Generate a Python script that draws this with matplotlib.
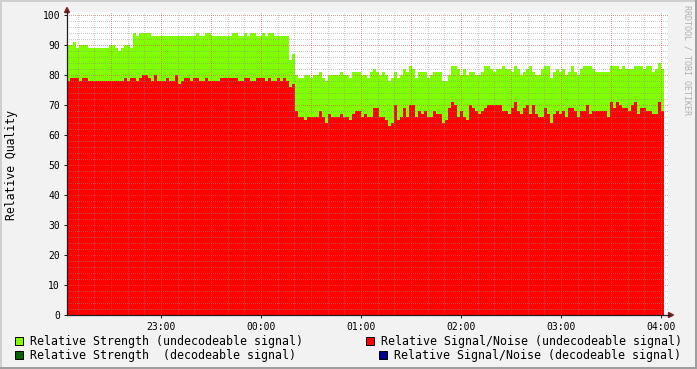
import matplotlib
matplotlib.use("Agg")
import matplotlib.pyplot as plt
from matplotlib.lines import Line2D
from matplotlib.patches import Rectangle, Polygon
from datetime import datetime, timedelta

W, H = 697, 369
plt.rcParams['font.family'] = ['DejaVu Sans Mono', 'DejaVu Sans']
plt.rcParams['lines.scale_dashes'] = False

# ---------------- data ----------------
start_time = datetime(2024, 1, 1, 22, 3, 36)
step_seconds = 108

strength_undecodeable = [
    90, 90, 91, 89, 90, 90, 90, 89, 89, 89, 89, 89, 89, 89, 90, 90, 89, 88, 89, 90, 90, 89, 94,
    93, 94, 94, 94, 94, 93, 93, 93, 93, 93, 93, 93, 93, 93, 93, 93, 93, 93, 93, 93, 94,
    93, 93, 94, 94, 93, 93, 93, 93, 93, 93, 93, 94, 94, 93, 93, 94, 93, 94, 94, 93, 93, 94,
    93, 94, 94, 93, 93, 93, 93, 93, 85, 87,
    80, 79, 79, 80, 80, 79, 80, 80, 81, 79, 78, 80, 80, 80, 80, 81, 80, 80, 79, 81, 81, 81, 80,
    80, 79, 81, 82, 81, 80, 81, 80, 78, 79, 81, 79, 80, 82, 81, 83, 82, 79, 81, 81, 81, 79, 80,
    81, 81, 81, 78, 78, 80, 83, 83, 82, 80, 82,
    80, 81, 81, 80, 80, 81, 83, 83, 82, 81, 82, 82, 83, 82, 82, 81, 83, 82, 80, 81, 82, 83, 81,
    80, 80, 82, 83, 83, 79, 81, 82, 81, 82,
    80, 81, 83, 81, 80, 82, 83, 83, 83, 82, 81, 81, 81, 81, 81, 83, 83, 83, 82, 83, 82, 82, 82,
    83, 83, 83, 82, 83, 83, 81, 82, 84, 82,
]

snr_undecodeable = [
    78, 79, 79, 79, 78, 79, 79, 78, 78, 78, 78, 78, 78, 78, 78, 78, 78, 78, 78, 79, 78, 79, 79,
    78, 79, 80, 80, 79, 78, 80, 78, 78, 78, 79, 78, 78, 80, 77, 78, 79, 79, 78, 79, 79,
    78, 78, 79, 78, 78, 78, 78, 79, 79, 79, 79, 79, 79, 78, 78, 79, 79, 78, 78, 79, 79, 79,
    78, 79, 78, 78, 79, 78, 79, 78, 76, 77,
    68, 66, 66, 65, 66, 66, 66, 66, 68, 66, 64, 67, 66, 66, 66, 67, 66, 66, 65, 67, 68, 68, 66,
    67, 66, 66, 69, 69, 66, 66, 65, 63, 64, 70, 65, 66, 69, 66, 70, 70, 66, 68, 67, 68, 66, 66,
    68, 67, 67, 64, 65, 69, 71, 70, 66, 68, 66,
    65, 70, 69, 68, 67, 68, 69, 70, 70, 70, 70, 70, 68, 68, 67, 69, 71, 68, 67, 69, 70, 67, 70,
    67, 66, 66, 69, 67, 64, 67, 68, 67, 68,
    66, 69, 69, 68, 66, 68, 68, 70, 67, 68, 68, 68, 68, 68, 66, 71, 69, 71, 70, 69, 69, 68, 70,
    71, 67, 69, 69, 68, 68, 67, 67, 71, 68,
]

legend_labels = [
    "Relative Strength (undecodeable signal)",
    "Relative Signal/Noise (undecodeable signal)",
    "Relative Strength  (decodeable signal)",
    "Relative Signal/Noise (decodeable signal)",
]
legend_colors = ["#7FFF00", "#FF0000", "#006400", "#000090"]
hour_labels = ["23:00", "00:00", "01:00", "02:00", "03:00", "04:00"]
y_ticks = list(range(0, 101, 10))
y_label = "Relative Quality"
watermark = "RRDTOOL / TOBI OETIKER"

# ---------------- figure ----------------
n = len(strength_undecodeable)
times = [start_time + timedelta(seconds=step_seconds * i) for i in range(n + 1)]
g = strength_undecodeable + [strength_undecodeable[-1]]
r = snr_undecodeable + [snr_undecodeable[-1]]


def fx(px):
    return px / W


def fy(py):
    return 1 - py / H


fig = plt.figure(figsize=(W / 100, H / 100), dpi=100)
fig.patch.set_facecolor('#F2F2F2')

ax = fig.add_axes([fx(67), fy(315), (668 - 67) / W, (315 - 12) / H])
ax.set_facecolor('white')
ax.fill_between(times, 0, g, step='post', color=legend_colors[0], linewidth=0, zorder=1)
ax.fill_between(times, 0, r, step='post', color=legend_colors[1], linewidth=0, zorder=2)

x_end = start_time + timedelta(seconds=601 * 36)
ax.set_xlim(start_time, x_end)
ax.set_ylim(0, 101)

grid_c = (0.56, 0.56, 0.56, 0.45)
mgrid_c = (0.87, 0.31, 0.31, 0.55)
dash = (0, (0.72, 1.44))
for v in range(2, 101, 2):
    ax.axhline(v, color=mgrid_c if v % 10 == 0 else grid_c, lw=0.72, ls=dash,
               antialiased=False, zorder=3)
t = datetime(2024, 1, 1, 22, 10)
while t < x_end:
    major = t.minute in (0, 30)
    ax.axvline(t, color=mgrid_c if major else grid_c, lw=0.72, ls=dash,
               antialiased=False, zorder=3)
    t += timedelta(minutes=10)

for s in ax.spines.values():
    s.set_visible(False)

ax.set_yticks(y_ticks)
ax.set_yticklabels([str(v) for v in y_ticks])
hour_pos = [datetime(2024, 1, 1, 23) + timedelta(hours=k) for k in range(len(hour_labels))]
ax.set_xticks(hour_pos)
ax.set_xticklabels(hour_labels)
ax.tick_params(axis='both', length=2, width=0.72, color='#1F1F1F', labelsize=7)
ax.tick_params(axis='y', pad=3)
ax.tick_params(axis='x', pad=3)

# axes lines and arrows
fig.add_artist(Line2D([fx(67), fx(67)], [fy(315), fy(11)], color='#1F1F1F', lw=0.9))
fig.add_artist(Line2D([fx(67), fx(670)], [fy(315), fy(315)], color='#1F1F1F', lw=0.9))
fig.add_artist(Polygon([[fx(64.5), fy(12.5)], [fx(69.5), fy(12.5)], [fx(67), fy(7.5)]],
                       closed=True, transform=fig.transFigure, color='#801F1F'))
fig.add_artist(Polygon([[fx(668.5), fy(312.5)], [fx(668.5), fy(317.5)], [fx(673.5), fy(315)]],
                       closed=True, transform=fig.transFigure, color='#801F1F'))

# legend
entries = [(15, 341, 30), (366, 341, 381), (15, 355, 30), (379, 355, 394)]
for (bx, by, tx), lab, col in zip(entries, legend_labels, legend_colors):
    fig.add_artist(Rectangle((fx(bx), fy(by + 4)), 8 / W, 8 / H, transform=fig.transFigure,
                             facecolor=col, edgecolor='black', lw=0.72))
    fig.text(fx(tx), fy(by), lab, fontsize=8.4, va='center', ha='left', color='black')

fig.text(fx(12), fy(165), y_label, rotation=90, va='center', ha='center', fontsize=8.3)
fig.text(fx(687), fy(60), watermark, rotation=270, va='center', ha='center',
         fontsize=6, color='#B0B0B0')

# frame shading
fig.add_artist(Rectangle((0, fy(2)), 1, 2 / H, transform=fig.transFigure, color='#CFCFCF', lw=0))
fig.add_artist(Rectangle((0, 0), 2 / W, 1, transform=fig.transFigure, color='#CFCFCF', lw=0))
fig.add_artist(Rectangle((0, 0), 1, 2 / H, transform=fig.transFigure, color='#9E9E9E', lw=0))
fig.add_artist(Rectangle((1 - 2 / W, 0), 2 / W, 1, transform=fig.transFigure, color='#9E9E9E', lw=0))

fig.savefig('out.png', dpi=100)
